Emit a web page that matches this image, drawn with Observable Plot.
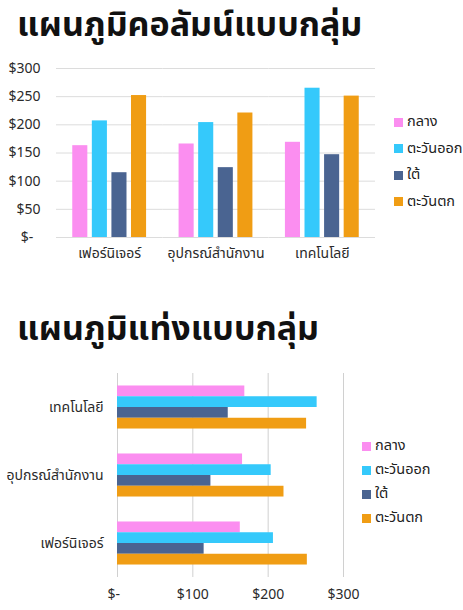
<!DOCTYPE html>
<html>
<head>
<meta charset="utf-8">
<script src="https://cdn.jsdelivr.net/npm/d3@7"></script>
<script src="https://cdn.jsdelivr.net/npm/@observablehq/plot@0.6"></script>
<style>
  html, body { margin: 0; padding: 0; background: #fff; }
  body { width: 463px; height: 610px; position: relative; overflow: hidden;
         font-family: "Noto Sans Thai", "Noto Sans", "DejaVu Sans", sans-serif; color: #222; }
  .title { position: absolute; left: 17px; font-weight: 700; font-size: 34px; line-height: 1.35; color: #111; white-space: nowrap; }
  .chart { position: absolute; left: 0; }
  .legend { position: absolute; font-size: 14.5px; color: #222; }
  .legend .item { display: flex; align-items: center; white-space: nowrap; }
  .legend .sw { display: inline-block; width: 9px; height: 9px; margin-right: 4px; }
</style>
</head>
<body>
<div class="title" id="t1" style="top:3px">แผนภูมิคอลัมน์แบบกลุ่ม</div>
<div class="chart" id="c1" style="top:50px"></div>
<div class="legend" id="l1" style="left:394px; top:109px"></div>
<div class="title" id="t2" style="top:307px">แผนภูมิแท่งแบบกลุ่ม</div>
<div class="chart" id="c2" style="top:355px"></div>
<div class="legend" id="l2" style="left:362px; top:434px"></div>
<script>
const categories = ["เฟอร์นิเจอร์", "อุปกรณ์สำนักงาน", "เทคโนโลยี"];
const regions = ["กลาง", "ตะวันออก", "ใต้", "ตะวันตก"];
const regionColors = ["#fb8ef0", "#35c9fb", "#4a6491", "#f09d14"];
// values per category, in region order
const furnitureValues = [163, 207, 115, 252];
const officeValues = [166, 204, 124, 221];
const technologyValues = [169, 265, 147, 251];
const columnTicks = [0, 50, 100, 150, 200, 250, 300];
const barTicks = [0, 100, 200, 300];

const seriesByCategory = [furnitureValues, officeValues, technologyValues];
const data = [];
categories.forEach((c, i) => regions.forEach((r, j) => data.push({cat: c, region: r, value: seriesByCategory[i][j]})));

const money = d => d === 0 ? "$-\u00a0\u00a0" : "$" + d;
const fontStyle = {fontSize: "14px", fontFamily: '"Noto Sans Thai", "Noto Sans", sans-serif', color: "#2a2a2a", background: "transparent"};

const chart1 = Plot.plot({
  width: 463, height: 225,
  marginLeft: 56, marginRight: 88, marginTop: 18, marginBottom: 38,
  style: fontStyle,
  fx: {domain: categories, padding: 0, round: false, label: null, axis: "bottom", tickSize: 0, tickPadding: 11},
  x: {domain: regions, axis: null, paddingInner: 0.23, paddingOuter: 0.83, round: false},
  y: {domain: [0, 300], ticks: columnTicks, tickFormat: money, label: null, tickSize: 0, tickPadding: 16},
  color: {domain: regions, range: regionColors},
  marks: [
    Plot.gridY(columnTicks, {stroke: "#dcdcdc", strokeOpacity: 1}),
    Plot.barY(data, {fx: "cat", x: "region", y: "value", fill: "region"})
  ]
});
document.getElementById("c1").appendChild(chart1);

const chart2 = Plot.plot({
  width: 463, height: 255,
  marginLeft: 117, marginRight: 120, marginTop: 18, marginBottom: 33,
  style: fontStyle,
  fy: {domain: categories.slice().reverse(), padding: 0, round: false, label: null, axis: "left", tickSize: 0, tickPadding: 14},
  y: {domain: regions, axis: null, paddingInner: 0, paddingOuter: 1.16, round: false},
  x: {domain: [0, 300], ticks: barTicks, tickFormat: money, label: null, tickSize: 0, tickPadding: 12},
  color: {domain: regions, range: regionColors},
  marks: [
    Plot.gridX(barTicks, {stroke: "#d0d0d0", strokeOpacity: 1}),
    Plot.barX(data, {fy: "cat", y: "region", x: "value", fill: "region"})
  ]
});
document.getElementById("c2").appendChild(chart2);

function legend(id, gap) {
  const el = document.getElementById(id);
  regions.forEach((r, i) => {
    const it = document.createElement("div");
    it.className = "item";
    it.style.height = gap + "px";
    const sw = document.createElement("span");
    sw.className = "sw";
    sw.style.background = regionColors[i];
    it.appendChild(sw);
    it.appendChild(document.createTextNode(r));
    el.appendChild(it);
  });
}
legend("l1", 26.5);
legend("l2", 24);
</script>
</body>
</html>
